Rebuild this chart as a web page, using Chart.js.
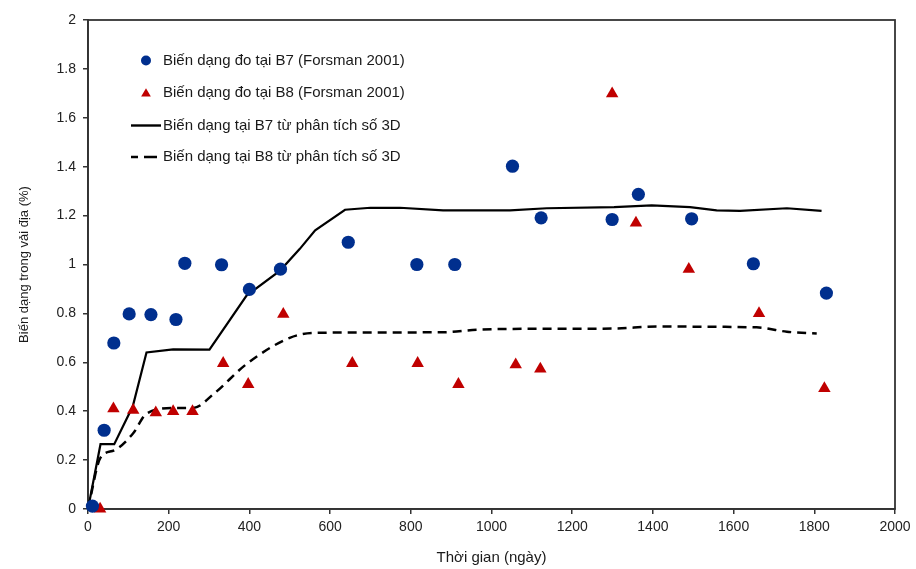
<!DOCTYPE html>
<html>
<head>
<meta charset="utf-8">
<script src="https://cdn.jsdelivr.net/npm/chart.js@4/dist/chart.umd.min.js"></script>
<style>
html,body{margin:0;padding:0;background:#fff;}
#wrap{width:916px;height:569px;}
canvas{display:block;}
</style>
</head>
<body>
<div id="wrap"><canvas id="c" width="916" height="569"></canvas></div>
<script>
// ---- data ----
const seriesLabels = [
  "Biến dạng đo tại B7 (Forsman 2001)",
  "Biến dạng đo tại B8 (Forsman 2001)",
  "Biến dạng tại B7 từ phân tích số 3D",
  "Biến dạng tại B8 từ phân tích số 3D"
];
const b7Days   = [11, 40, 64, 102, 156, 218, 240, 331, 400, 477, 645, 815, 909, 1052, 1123, 1299, 1364, 1496, 1649, 1830];
const b7Strain = [0.012, 0.322, 0.679, 0.798, 0.795, 0.775, 1.005, 0.999, 0.898, 0.981, 1.091, 1.0, 1.0, 1.402, 1.191, 1.184, 1.287, 1.187, 1.003, 0.883];

const b8Days   = [30, 63, 112, 168, 211, 259, 335, 397, 484, 655, 817, 918, 1060, 1121, 1299, 1358, 1489, 1663, 1825];
const b8Strain = [0.0, 0.41, 0.404, 0.394, 0.399, 0.399, 0.596, 0.51, 0.797, 0.596, 0.596, 0.51, 0.59, 0.573, 1.699, 1.17, 0.981, 0.8, 0.493];

const b7ModelDays   = [0, 31, 65, 111, 145, 211, 301, 393, 476, 525, 563, 637, 700, 773, 880, 1046, 1137, 1304, 1397, 1492, 1558, 1616, 1732, 1818];
const b7ModelStrain = [0, 0.265, 0.265, 0.42, 0.64, 0.653, 0.652, 0.873, 0.975, 1.064, 1.14, 1.224, 1.232, 1.232, 1.221, 1.221, 1.23, 1.235, 1.242, 1.235, 1.221, 1.219, 1.23, 1.219];

const b8ModelDays   = [0, 31, 65, 112, 145, 211, 261, 311, 393, 500, 558, 674, 880, 963, 1100, 1300, 1409, 1657, 1732, 1806];
const b8ModelStrain = [0, 0.21, 0.24, 0.31, 0.39, 0.413, 0.413, 0.47, 0.593, 0.70, 0.72, 0.722, 0.723, 0.733, 0.737, 0.738, 0.746, 0.743, 0.725, 0.718];

const xTickLabels = ["0","200","400","600","800","1000","1200","1400","1600","1800","2000"];
const yTickLabels = ["0","0.2","0.4","0.6","0.8","1","1.2","1.4","1.6","1.8","2"];
const xTitle = "Thời gian (ngày)";
const yTitle = "Biến dạng trong vải địa (%)";

// ---- build ----
function pts(xs, ys){ return xs.map((x, i) => ({x: x, y: ys[i]})); }
const FONT = '"Liberation Sans", Arial, sans-serif';
const AXIS = '#333333';

const boxPlugin = {
  id: 'plotBox',
  beforeDatasetsDraw(chart){
    const {ctx, chartArea: a} = chart;
    ctx.save();
    ctx.strokeStyle = AXIS;
    ctx.lineWidth = 1.8;
    ctx.strokeRect(a.left, a.top, a.right - a.left, a.bottom - a.top);
    ctx.restore();
  }
};

const innerLegend = {
  id: 'innerLegend',
  afterDraw(chart){
    const ctx = chart.ctx;
    const rows = [61, 93, 125.5, 157];
    const textX = 163;
    ctx.save();
    ctx.font = '15px ' + FONT;
    ctx.textAlign = 'left';
    ctx.textBaseline = 'middle';
    chart.data.datasets.forEach((ds, i) => {
      const y = rows[i];
      if (i === 0) {
        ctx.beginPath();
        ctx.fillStyle = ds.backgroundColor;
        ctx.arc(146, y - 0.5, 5, 0, Math.PI * 2);
        ctx.fill();
      } else if (i === 1) {
        ctx.beginPath();
        ctx.fillStyle = ds.backgroundColor;
        const r = 5.6, cy = y + 0.8;
        ctx.moveTo(146, cy - r);
        ctx.lineTo(146 + r * Math.sin(Math.PI * 2 / 3), cy + r / 2);
        ctx.lineTo(146 - r * Math.sin(Math.PI * 2 / 3), cy + r / 2);
        ctx.closePath();
        ctx.fill();
      } else if (i === 2) {
        ctx.beginPath();
        ctx.strokeStyle = ds.borderColor;
        ctx.lineWidth = 2.4;
        ctx.moveTo(131, y);
        ctx.lineTo(161, y);
        ctx.stroke();
      } else {
        ctx.beginPath();
        ctx.strokeStyle = ds.borderColor;
        ctx.lineWidth = 2.6;
        ctx.moveTo(131, y); ctx.lineTo(138, y);
        ctx.moveTo(144, y); ctx.lineTo(157, y);
        ctx.stroke();
      }
      ctx.fillStyle = '#1a1a1a';
      ctx.fillText(ds.label, textX, y);
    });
    ctx.restore();
  }
};

new Chart(document.getElementById('c'), {
  type: 'scatter',
  data: {
    datasets: [
      {
        label: seriesLabels[0],
        data: pts(b7Days, b7Strain),
        pointStyle: 'circle',
        pointRadius: 6.6,
        backgroundColor: '#002f8e',
        borderColor: '#002f8e',
        borderWidth: 0,
        clip: false
      },
      {
        label: seriesLabels[1],
        data: pts(b8Days, b8Strain),
        pointStyle: 'triangle',
        pointRadius: 7.2,
        backgroundColor: '#c00000',
        borderColor: '#c00000',
        borderWidth: 0,
        clip: false
      },
      {
        label: seriesLabels[2],
        data: pts(b7ModelDays, b7ModelStrain),
        showLine: true,
        pointRadius: 0,
        borderColor: '#000000',
        backgroundColor: '#000000',
        borderWidth: 2.2,
        tension: 0,
        clip: false
      },
      {
        label: seriesLabels[3],
        data: pts(b8ModelDays, b8ModelStrain),
        showLine: true,
        pointRadius: 0,
        borderColor: '#000000',
        backgroundColor: '#000000',
        borderWidth: 2.5,
        borderDash: [9, 6],
        cubicInterpolationMode: 'monotone',
        clip: false
      }
    ]
  },
  options: {
    responsive: false,
    animation: false,
    devicePixelRatio: 1,
    layout: { padding: { left: 0, top: 20, right: 21, bottom: 0 } },
    plugins: {
      legend: { display: false },
      tooltip: { enabled: false }
    },
    scales: {
      x: {
        type: 'linear',
        min: 0, max: 2000,
        afterFit(s){ s.height = 60; },
        ticks: {
          stepSize: 200,
          autoSkip: false,
          maxRotation: 0,
          padding: 5,
          color: '#222222',
          font: { family: FONT, size: 14 },
          callback: (v, i) => xTickLabels[i]
        },
        grid: { drawOnChartArea: false, drawTicks: true, tickLength: 5, color: AXIS, lineWidth: 1.5 },
        border: { display: true, color: AXIS, width: 1.8 },
        title: {
          display: true, text: xTitle, color: '#1a1a1a',
          font: { family: FONT, size: 15 },
          padding: { top: 0, bottom: 2 }
        }
      },
      y: {
        type: 'linear',
        min: 0, max: 2,
        afterFit(s){ s.width = 88; },
        ticks: {
          stepSize: 0.2,
          autoSkip: false,
          padding: 7,
          color: '#222222',
          font: { family: FONT, size: 14 },
          callback: (v, i) => yTickLabels[i]
        },
        grid: { drawOnChartArea: false, drawTicks: true, tickLength: 5, color: AXIS, lineWidth: 1.5 },
        border: { display: true, color: AXIS, width: 1.8 },
        title: {
          display: true, text: yTitle, color: '#1a1a1a',
          font: { family: FONT, size: 13 },
          padding: { top: 17, bottom: 0 }
        }
      }
    }
  },
  plugins: [boxPlugin, innerLegend]
});
</script>
</body>
</html>
